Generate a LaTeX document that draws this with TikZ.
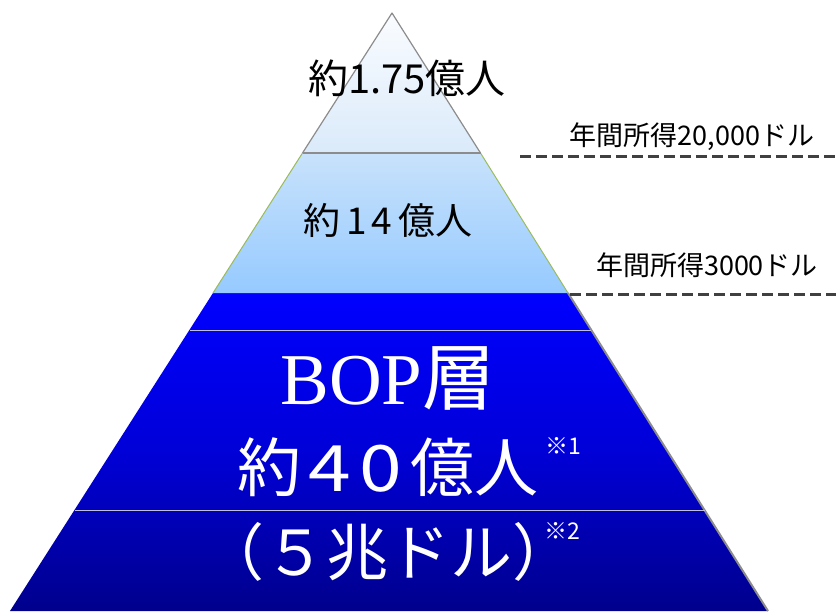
\documentclass[tikz,border=0pt]{standalone}
\usepackage{fontspec}
\setmainfont{Liberation Serif}
\newfontfamily\jp{Noto Sans CJK JP}
\definecolor{topA}{RGB}{250,252,255}
\definecolor{topB}{RGB}{218,234,250}
\definecolor{midA}{RGB}{200,226,251}
\definecolor{midB}{RGB}{150,202,255}
\definecolor{bopA}{RGB}{0,0,255}
\definecolor{bopB}{RGB}{0,0,140}
\definecolor{edgegray}{RGB}{140,140,140}
\definecolor{edgegreen}{RGB}{155,187,89}
\definecolor{dashgray}{RGB}{64,64,64}
\definecolor{sepline}{RGB}{190,190,215}
\newcommand{\widedigit}[1]{\scalebox{1.2}[1]{#1}}
\newcommand{\notemark}[1]{\rlap{\hspace{6pt}\raisebox{36pt}{\fontsize{23}{25}\selectfont #1}}}
\tikzset{
  darklabel/.style={font=\jp, text=black, inner sep=0pt},
  whitelabel/.style={text=white, inner sep=0pt},
  incomeline/.style={draw=dashgray, line width=3pt, dash pattern=on 11pt off 5pt},
  incomelabel/.style={font=\jp\fontsize{27}{29}\selectfont, text=black, inner sep=0pt},
  notelabel/.style={font=\jp\fontsize{23}{25}\selectfont, text=white, inner sep=0pt},
}
\begin{document}
\begin{tikzpicture}[x=1pt,y=-1pt]
\useasboundingbox (0,0) rectangle (836,611);
% geometry
\coordinate (A) at (392,13);
\coordinate (L1) at (302.5,153);
\coordinate (R1) at (480.5,153);
\coordinate (L2) at (213,293);
\coordinate (R2) at (568,293);
\coordinate (L3) at (10,611);
\coordinate (R3) at (768,611);
\coordinate (S1l) at (189.5,330);
\coordinate (S1r) at (591,330);
\coordinate (S2l) at (74.5,510);
\coordinate (S2r) at (704.5,510);
% bottom layer
\shade[top color=bopA, bottom color=bopB, middle color={rgb,255:red,0;green,0;blue,215}] (L2) -- (R2) -- (R3) -- (L3) -- cycle;
\draw[edgegray, line width=2pt] (R2) -- (R3);
\draw[sepline, line width=0.8pt] (S1l) -- (S1r);
\draw[sepline, line width=0.8pt] (S2l) -- (S2r);
% middle layer
\shade[top color=midA, bottom color=midB] (L1) -- (R1) -- (R2) -- (L2) -- cycle;
\draw[edgegreen, line width=1pt] (L1) -- (L2);
\draw[edgegreen, line width=1pt] (R1) -- (R2);
% top layer
\shade[top color=topA, bottom color=topB] (A) -- (R1) -- (L1) -- cycle;
\draw[edgegray, line width=1.2pt, line join=round] (L1) -- (A) -- (R1);
\draw[edgegray, line width=1.5pt] (L1) -- (R1);
% income lines
\coordinate (D1s) at (520,156);
\coordinate (D1e) at (836,156);
\coordinate (D2s) at (570,294);
\coordinate (D2e) at (836,294);
\draw[incomeline] (D1s) -- (D1e);
\draw[incomeline] (D2s) -- (D2e);
\node[incomelabel] (inc1) at (692,137) {年間所得20,000ドル};
\node[incomelabel] (inc2) at (707,265) {年間所得3000ドル};
% texts
\node[darklabel, font=\jp\fontsize{40}{42}\selectfont] (t1) at (407,78) {約1.75億人};
\node[darklabel, font=\jp\fontsize{37}{40}\selectfont] (t2) at (388,220) {約\hspace{6pt}1\hspace{5pt}4\hspace{6pt}億人};
\node[whitelabel, font=\fontsize{73}{76}\selectfont] (t3) at (388,378) {BOP{\jp 層}};
\node[whitelabel, font=\jp\fontsize{64}{66}\selectfont] (t4) at (388,467) {約\hspace{7pt}\widedigit{4}\hspace{8pt}\widedigit{0}\hspace{8pt}億人};
\node[notelabel] (n1) at (563,446) {※1};
\node[whitelabel, font=\jp\fontsize{62}{66}\selectfont] (t5) at (388,552) {\makebox[300pt][c]{（５兆ドル）}\notemark{※2}};
\end{tikzpicture}
\end{document}
